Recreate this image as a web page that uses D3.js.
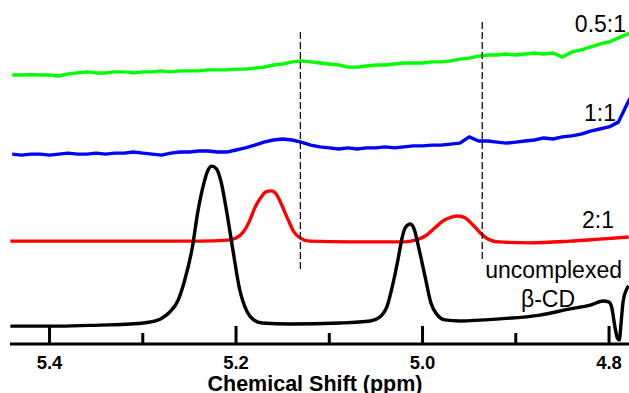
<!DOCTYPE html>
<html>
<head>
<meta charset="utf-8">
<script src="https://cdn.jsdelivr.net/npm/d3@7"></script>
<style>
  body { margin: 0; background: #fff; }
  svg { display: block; font-family: Arial, "Liberation Sans", sans-serif; }
</style>
</head>
<body>
<div class="chart"></div>
<script>
// chemical shift grid (ppm) for the two noisy spectra
var gridPpm = [5.44, 5.43, 5.42, 5.41, 5.40, 5.39, 5.38, 5.37, 5.36, 5.35, 5.34, 5.33, 5.32, 5.31, 5.30,
    5.29, 5.28, 5.27, 5.26, 5.25, 5.24, 5.23, 5.22, 5.21, 5.20, 5.19, 5.18, 5.17, 5.16, 5.15, 5.14, 5.13,
    5.12, 5.11, 5.10, 5.09, 5.08, 5.07, 5.06, 5.05, 5.04, 5.03, 5.02, 5.01, 5.00, 4.99, 4.98, 4.97, 4.96,
    4.95, 4.94, 4.93, 4.92, 4.91, 4.90, 4.89, 4.88, 4.87, 4.86, 4.85, 4.84, 4.83, 4.82, 4.81, 4.80, 4.79,
    4.78, 4.77];

// 0.5:1 spectrum (stacked intensity, a.u.)
var greenVals = [78.2, 78.2, 78.3, 78.2, 78.2, 77.9, 78.5, 78.8, 79.1, 78.8, 78.8, 79.1, 79.1, 78.8, 79.1,
    79.1, 79.4, 79.1, 79.4, 79.4, 79.4, 79.7, 79.7, 79.7, 79.9, 79.9, 80.2, 80.5, 81.1, 81.4, 82.0, 82.3,
    82.0, 81.7, 81.4, 81.1, 80.5, 80.5, 80.8, 81.1, 81.1, 81.4, 81.7, 81.7, 81.7, 82.0, 82.0, 82.3, 82.8,
    83.1, 83.7, 84.0, 84.0, 84.3, 84.0, 84.3, 84.6, 84.3, 84.6, 83.4, 84.9, 85.5, 86.3, 87.2, 87.8, 89.0,
    90.1, 91.0];

// 1:1 spectrum
var blueVals = [55.2, 54.9, 55.2, 55.2, 54.9, 55.2, 55.5, 55.2, 55.2, 55.5, 55.2, 55.5, 55.5, 55.8, 55.5,
    55.2, 54.9, 55.5, 55.8, 55.8, 56.1, 56.1, 55.8, 55.8, 56.4, 57.0, 57.8, 58.7, 59.3, 59.6, 59.3, 58.7,
    57.8, 57.3, 57.0, 56.7, 57.0, 56.7, 57.0, 57.0, 57.3, 57.0, 57.3, 57.6, 57.6, 57.8, 57.8, 58.1, 58.4,
    60.2, 59.0, 59.0, 58.7, 58.4, 58.7, 59.0, 59.3, 59.9, 59.6, 60.2, 60.5, 61.0, 61.9, 62.5, 63.1, 64.5,
    70.1, 75.3];

// 2:1 spectrum
var redPpm = [5.442, 5.346, 5.239, 5.209, 5.200, 5.192, 5.186, 5.180, 5.173, 5.168, 5.162, 5.157, 5.151,
    5.144, 5.138, 5.131, 5.121, 5.078, 5.019, 5.008, 4.997, 4.987, 4.978, 4.969, 4.962, 4.954, 4.947,
    4.938, 4.930, 4.919, 4.885, 4.842, 4.810, 4.779];
var redVals = [29.9, 29.9, 29.9, 30.2, 30.8, 32.6, 35.5, 39.5, 42.7, 44.2, 44.5, 43.6, 40.4,
    36.0, 32.6, 30.8, 29.9, 29.7, 29.7, 30.2, 31.4, 33.7, 35.8, 36.9, 37.2, 36.6, 34.9,
    32.3, 30.5, 29.7, 29.4, 29.9, 30.5, 31.1];

// uncomplexed beta-CD
var blackPpm = [5.442, 5.389, 5.346, 5.314, 5.292, 5.281, 5.271, 5.262, 5.255, 5.247, 5.241, 5.235, 5.230,
    5.226, 5.221, 5.216, 5.210, 5.203, 5.196, 5.188, 5.181, 5.172, 5.142, 5.088, 5.056, 5.046, 5.038,
    5.032, 5.026, 5.022, 5.018, 5.013, 5.009, 5.004, 4.997, 4.991, 4.984, 4.976, 4.960, 4.917, 4.874,
    4.842, 4.820, 4.806, 4.800, 4.797, 4.794, 4.791, 4.789, 4.787, 4.785, 4.782, 4.779];
var blackVals = [5.2, 5.2, 5.5, 5.8, 6.4, 7.3, 9.3, 12.8, 18.6, 27.9, 38.4, 46.2, 50.6,
    51.7, 50.9, 47.1, 38.4, 26.7, 15.7, 9.3, 7.0, 6.1, 5.8, 6.1, 6.7, 7.8, 11.0,
    17.2, 25.0, 30.8, 34.0, 34.9, 33.4, 27.9, 19.2, 11.9, 8.4, 7.0, 6.7, 7.3, 8.4,
    10.2, 11.3, 12.5, 12.2, 10.5, 5.5, 1.7, 1.2, 6.4, 12.2, 15.4, 16.9];

// dashed guides: ppm, top and bottom intensity
var guidePpm = [5.131, 4.936];
var guideTop = [90.7, 93.6];
var guideBottom = [20.9, 23.8];

var majorTicks = [5.4, 5.2, 5.0, 4.8];
var minorTicks = [5.3, 5.1, 4.9];

var width = 629, height = 393;

var svg = d3.select(".chart").append("svg")
    .attr("width", width)
    .attr("height", height);

var x = d3.scaleLinear().domain([5.4424, 4.7786]).range([10, 629]);
var y = d3.scaleLinear().domain([0, 100]).range([344, 0]);

svg.append("defs").append("clipPath").attr("id", "plot")
    .append("rect").attr("x", 0).attr("y", 0).attr("width", 629).attr("height", 344);

var line = d3.line().x(d => x(d[0])).y(d => y(d[1]));
var smooth = d3.line().x(d => x(d[0])).y(d => y(d[1])).curve(d3.curveMonotoneX);

var traces = [
    { pts: d3.zip(gridPpm, greenVals), colour: "#00ff00", gen: line },
    { pts: d3.zip(gridPpm, blueVals), colour: "#0000ff", gen: line },
    { pts: d3.zip(redPpm, redVals), colour: "#ff0000", gen: smooth },
    { pts: d3.zip(blackPpm, blackVals), colour: "#000000", gen: smooth }
];

var g = svg.append("g").attr("clip-path", "url(#plot)");

g.selectAll("path.trace")
    .data(traces)
    .enter()
    .append("path")
    .attr("class", "trace")
    .attr("d", d => d.gen(d.pts))
    .attr("fill", "none")
    .attr("stroke", d => d.colour)
    .attr("stroke-width", 3.4)
    .attr("stroke-linejoin", "round");

// dashed guide lines
svg.selectAll("line.guide")
    .data(guidePpm)
    .enter()
    .append("line")
    .attr("class", "guide")
    .attr("x1", d => x(d)).attr("x2", d => x(d))
    .attr("y1", (d, i) => y(guideTop[i]))
    .attr("y2", (d, i) => y(guideBottom[i]))
    .attr("stroke", "#111")
    .attr("stroke-width", 1.3)
    .attr("stroke-dasharray", "7,3");

// bottom axis
var axisG = svg.append("g").attr("transform", "translate(0,344)");
axisG.append("line")
    .attr("x1", 10).attr("x2", 629)
    .attr("stroke", "#000").attr("stroke-width", 3);

axisG.selectAll("line.major")
    .data(majorTicks)
    .enter()
    .append("line")
    .attr("x1", d => x(d)).attr("x2", d => x(d))
    .attr("y1", 0).attr("y2", -18)
    .attr("stroke", "#000").attr("stroke-width", 3);

axisG.selectAll("line.minor")
    .data(minorTicks)
    .enter()
    .append("line")
    .attr("x1", d => x(d)).attr("x2", d => x(d))
    .attr("y1", 0).attr("y2", -11)
    .attr("stroke", "#000").attr("stroke-width", 3);

axisG.selectAll("text.tick")
    .data(majorTicks)
    .enter()
    .append("text")
    .attr("x", d => x(d))
    .attr("y", 25)
    .attr("text-anchor", "middle")
    .attr("font-size", 18.5)
    .attr("font-weight", "bold")
    .text(d => d.toFixed(1));

svg.append("text")
    .attr("x", 315)
    .attr("y", 391)
    .attr("text-anchor", "middle")
    .attr("font-size", 21.5)
    .attr("font-weight", "bold")
    .text("Chemical Shift (ppm)");

// trace labels
var labels = [
    { t: "0.5:1", x: 626, y: 32, a: "end" },
    { t: "1:1", x: 616, y: 121, a: "end" },
    { t: "2:1", x: 614, y: 228, a: "end" },
    { t: "uncomplexed", x: 622, y: 278, a: "end" },
    { t: "\u03b2-CD", x: 548, y: 307, a: "middle" }
];
svg.selectAll("text.lab")
    .data(labels)
    .enter()
    .append("text")
    .attr("class", "lab")
    .attr("x", d => d.x)
    .attr("y", d => d.y)
    .attr("text-anchor", d => d.a)
    .attr("font-size", 23)
    .text(d => d.t);
</script>
</body>
</html>
